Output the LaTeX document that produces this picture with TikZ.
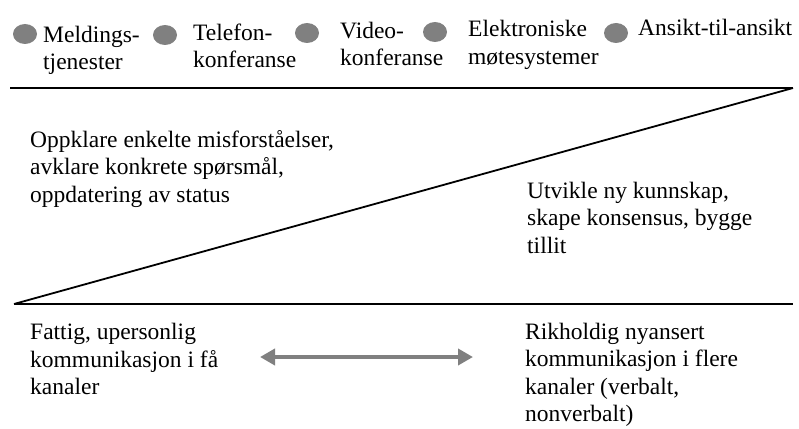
\documentclass[tikz,border=0pt]{standalone}
\usepackage{fontspec}
\setmainfont{Liberation Serif}
\usetikzlibrary{arrows.meta}
\usetikzlibrary{shapes.geometric}
\definecolor{punkt}{RGB}{128,128,128}
\definecolor{pil}{RGB}{128,128,128}

\begin{document}
\begin{tikzpicture}[x=1pt, y=-1pt,
    tekst/.style={anchor=base west, align=left, inner sep=0pt, font=\fontsize{23.5}{27.4}\selectfont},
    dott/.style={ellipse, fill=punkt, minimum width=24pt, minimum height=20pt, inner sep=0pt},
    linje/.style={line width=1.8pt, black},
    pilstil/.style={{Triangle[length=15pt,width=16pt]}-{Triangle[length=15pt,width=16pt]}, line width=4pt, pil}]

    \useasboundingbox (0,0) rectangle (799,428);

    % kanaler (tekstene er plassert etter siste linje)
    \node[dott] (p1) at (25,34) {};
    \node[dott] (p2) at (165,35) {};
    \node[dott] (p3) at (307,33) {};
    \node[dott] (p4) at (435,32) {};
    \node[dott] (p5) at (616,33) {};
    \node[tekst] (k1) at (43,69.5) {Meldings-\\tjenester};
    \node[tekst] (k2) at (193,67.5) {Telefon-\\konferanse};
    \node[tekst] (k3) at (340,65.5) {Video-\\konferanse};
    \node[tekst] (k4) at (468,64) {Elektroniske\\møtesystemer};
    \node[tekst] (k5) at (638,36) {Ansikt-til-ansikt};

    % kile
    \coordinate (ov) at (10,88);
    \coordinate (oh) at (793,88);
    \coordinate (nv) at (14,304);
    \coordinate (nh) at (793,304);
    \draw[linje] (ov) -- (oh);
    \draw[linje] (oh) -- (nv);
    \draw[linje] (nv) -- (nh);

    \node[tekst] (enkel) at (30,202) {Oppklare enkelte misforståelser,\\avklare konkrete spørsmål,\\oppdatering av status};
    \node[tekst] (kompleks) at (527,253) {Utvikle ny kunnskap,\\skape konsensus, bygge\\tillit};

    % rikhet
    \node[tekst] (fattig) at (30,394.6) {Fattig, upersonlig\\kommunikasjon i få\\kanaler};
    \node[tekst] (rik) at (525,421.4) {Rikholdig nyansert\\kommunikasjon i flere\\kanaler (verbalt,\\nonverbalt)};
    \coordinate (pv) at (260,357);
    \coordinate (ph) at (473,357);
    \draw[pilstil] (pv) -- (ph);

\end{tikzpicture}
\end{document}
